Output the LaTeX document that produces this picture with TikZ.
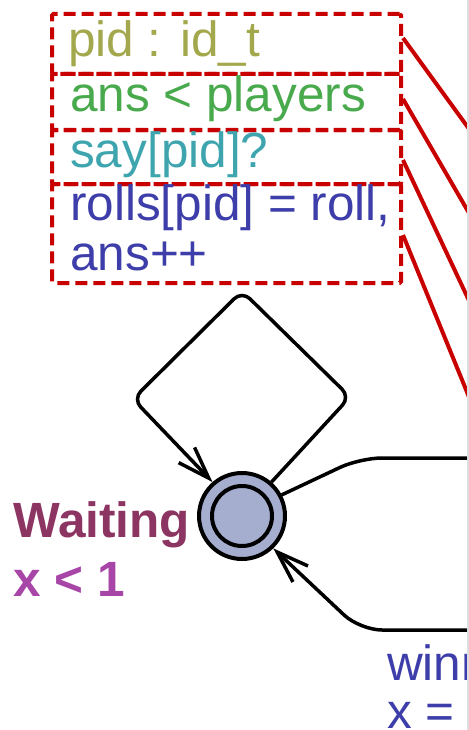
\documentclass[tikz,border=0pt]{standalone}
\usepackage{fontspec}
\setmainfont{Liberation Sans}
\usetikzlibrary{arrows.meta}
\definecolor{cOlive}{RGB}{163,168,77}
\definecolor{cGreen}{RGB}{72,170,76}
\definecolor{cTeal}{RGB}{62,165,175}
\definecolor{cBlue}{RGB}{62,62,170}
\definecolor{cMaroon}{RGB}{140,52,98}
\definecolor{cMag}{RGB}{168,70,168}
\definecolor{cRed}{RGB}{200,0,0}
\definecolor{cFill}{RGB}{165,174,207}
\definecolor{cEdge}{RGB}{222,222,222}
\tikzset{
  lbl/.style={anchor=base west, inner sep=0pt, font=\fontsize{49.7}{50}\selectfont},
  hbox/.style={draw=cRed, line width=4bp, dash pattern=on 12bp off 6bp, rounded corners=1.5bp, inner sep=0pt, anchor=north west},
  redline/.style={draw=cRed, line width=4bp},
  edge/.style={draw=black, line width=3.5bp},
  arr/.style={-{Straight Barb[length=32bp,width=22bp,line width=3.5bp]}},
  state/.style={circle, draw=black, line width=4bp, fill=cFill, minimum size=86bp, inner sep=0pt},
  istate/.style={circle, draw=black, line width=4bp, minimum size=60bp, inner sep=0pt}
}
\begin{document}
\begin{tikzpicture}[x=1bp,y=-1bp]
\useasboundingbox (0,0) rectangle (469,730);
\begin{scope}
\clip (0,0) rectangle (467,730);
% highlight boxes
\node[hbox, minimum width=349bp, minimum height=60bp] (b1) at (50,12) {};
\node[hbox, minimum width=349bp, minimum height=56bp] (b2) at (50,72) {};
\node[hbox, minimum width=349bp, minimum height=54bp] (b3) at (50,128) {};
\node[hbox, minimum width=349bp, minimum height=99bp] (b4) at (50,182) {};
% labels
\node[lbl, text=cOlive] (t1) at (68,57) {pid : id\_t};
\node[lbl, text=cGreen] (t2) at (70,112) {ans < players};
\node[lbl, text=cTeal] (t3) at (70,167) {say[pid]?};
\node[lbl, text=cBlue] (t4) at (70,220) {rolls[pid] = roll,};
\node[lbl, text=cBlue] (t5) at (70,270) {ans++};
% red connectors
\coordinate (e1) at (480,144);
\coordinate (e2) at (480,232);
\coordinate (e3) at (480,324);
\coordinate (e4) at (480,424);
\draw[redline] ([yshift=6bp]b1.east) -- (e1);
\draw[redline] ([yshift=3bp]b2.east) -- (e2);
\draw[redline] ([yshift=-3bp]b3.east) -- (e3);
\draw[redline] ([yshift=-1.5bp]b4.east) -- (e4);
% state
\node[state] (s) at (242,516) {};
\node[istate] (si) at (s) {};
\node[lbl, font=\fontsize{49.7}{50}\selectfont\bfseries, text=cMaroon] (wn) at (13,537) {Waiting};
\node[lbl, font=\fontsize{49.7}{50}\selectfont\bfseries, text=cMag] (wi) at (13,596) {x < 1};
% self loop
\draw[edge, arr, rounded corners=11bp] (s.49) -- (350,397) -- (242,291) -- (133,399) -- (s.131);
% outgoing edge to the right
\coordinate (e5) at (480,458);
\draw[edge, rounded corners=22bp] (s.28) -- (360,458) -- (e5);
% incoming edge from the right
\coordinate (e6) at (480,630);
\draw[edge, arr, rounded corners=22bp] (e6) -- (360,630) -- (s.-46);
\node[lbl, text=cBlue] (w1) at (387,680) {winn};
\node[lbl, text=cBlue] (w2) at (387,728) {x =};
\end{scope}
\draw[cEdge, line width=1.5bp] (467.75,0) -- (467.75,730);
\end{tikzpicture}
\end{document}
